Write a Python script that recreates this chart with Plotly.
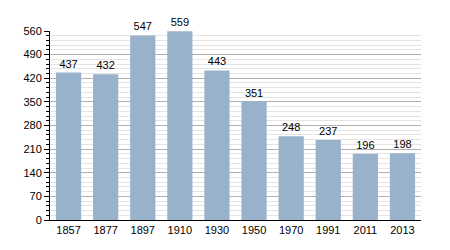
import plotly.graph_objects as go

years = ["1857", "1877", "1897", "1910", "1930", "1950", "1970", "1991", "2011", "2013"]
population = [437, 432, 547, 559, 443, 351, 248, 237, 196, 198]
y_ticks = [0, 70, 140, 210, 280, 350, 420, 490, 560]

fig = go.Figure(go.Bar(
    x=years, y=population,
    marker=dict(color="#99b2cc", line=dict(width=0)),
    text=[str(v) for v in population], textposition="outside",
    textfont=dict(color="black", size=11, family="Liberation Sans, Arial, sans-serif"),
    cliponaxis=False,
))
fig.update_layout(
    width=450, height=250,
    margin=dict(l=50, r=29, t=31, b=30),
    paper_bgcolor="white", plot_bgcolor="white",
    bargap=0.32,
    showlegend=False,
    font=dict(family="Liberation Sans, Arial, sans-serif", size=11, color="black"),
)
fig.update_xaxes(
    type="category", showgrid=False, showline=True, linecolor="black", linewidth=1,
    ticks="", tickfont=dict(size=11),
)
fig.update_yaxes(
    range=[0, 560], tickvals=y_ticks, showgrid=True, gridcolor="#b0b0b0", gridwidth=1,
    showline=True, linecolor="black", linewidth=1, ticks="outside", ticklen=5,
    tickcolor="black", tickfont=dict(size=11), zeroline=False,
    minor=dict(dtick=14, showgrid=True, gridcolor="#e4e4e4", ticks="outside", ticklen=3, tickcolor="black"),
)
fig.write_html("out.html")
